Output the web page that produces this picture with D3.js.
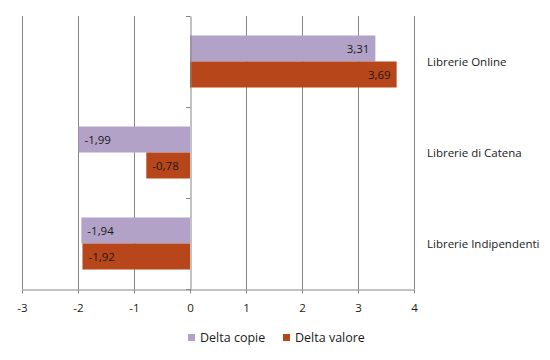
<!DOCTYPE html>
<html><head><meta charset="utf-8">
<script src="https://cdn.jsdelivr.net/npm/d3@7"></script>
<style>body{margin:0;background:#fff}text{font-family:"Open Sans","DejaVu Sans",sans-serif}</style>
</head><body><svg id="c" width="550" height="360"></svg>
<script>
const categories = ["Librerie Online","Librerie di Catena","Librerie Indipendenti"];
const seriesNames = ["Delta copie","Delta valore"];
const deltaCopie = [3.31,-1.99,-1.94];
const deltaValore = [3.69,-0.78,-1.92];
const xTicks = [-3,-2,-1,0,1,2,3,4];
const colors = ["#b3a2c7","#b8461b"];

const svg = d3.select("#c");
const x = d3.scaleLinear().domain([-3,4]).range([22,414]);
const y = d3.scaleBand().domain(categories).range([16,289]).paddingInner(0).paddingOuter(0);
const inner = d3.scaleBand().domain(seriesNames).range([0,y.bandwidth()]).paddingInner(0).paddingOuter(0.75);
const grid = "#868686";
const fmt = v => d3.format(".2f")(v).replace(".",",").replace("\u2212","-");

// gridlines
svg.append("g").selectAll("line").data(xTicks.filter(t=>t!==0)).join("line")
  .attr("x1",d=>x(d)+0.5).attr("x2",d=>x(d)+0.5).attr("y1",16).attr("y2",289)
  .attr("stroke",grid).attr("stroke-width",1);

// bars
const data = [];
categories.forEach((c,i)=>{
  data.push({c,s:seriesNames[0],v:deltaCopie[i],col:colors[0]});
  data.push({c,s:seriesNames[1],v:deltaValore[i],col:colors[1]});
});
svg.append("g").selectAll("rect").data(data).join("rect")
  .attr("x",d=>x(Math.min(0,d.v))).attr("width",d=>Math.abs(x(d.v)-x(0)))
  .attr("y",d=>y(d.c)+inner(d.s)).attr("height",inner.bandwidth())
  .attr("fill",d=>d.col);

svg.append("g").selectAll("text").data(data).join("text")
  .attr("x",d=>d.v>0? x(d.v)-6 : x(d.v)+6)
  .attr("y",d=>y(d.c)+inner(d.s)+inner.bandwidth()/2)
  .attr("dy","0.35em")
  .attr("text-anchor",d=>d.v>0?"end":"start")
  .attr("font-size",11.5).attr("fill","#1a1a1a")
  .text(d=>fmt(d.v));

// zero axis
const yAxis = svg.append("g").attr("transform",`translate(${x(0)+0.5},0)`)
  .call(d3.axisLeft(y).tickValues([]).tickSizeOuter(0));
yAxis.select(".domain").attr("stroke",grid);
svg.append("g").selectAll("line").data([16,107,198,289]).join("line")
  .attr("x1",x(0)-4).attr("x2",x(0)+0.5).attr("y1",d=>d+0.5).attr("y2",d=>d+0.5).attr("stroke",grid);

// bottom axis
const xAxis = svg.append("g").attr("transform","translate(0,289.5)")
  .call(d3.axisBottom(x).tickValues(xTicks).tickSize(4).tickSizeOuter(0).tickFormat(d=>String(d)));
xAxis.select(".domain").attr("stroke",grid);
xAxis.selectAll(".tick line").attr("stroke",grid);
xAxis.selectAll(".tick text").attr("font-size",11.5).attr("fill","#1a1a1a").attr("dy","0").attr("y",22)
  .style("font-family",'"Open Sans","DejaVu Sans",sans-serif');

// category labels on right
svg.append("g").selectAll("text").data(categories).join("text")
  .attr("x",427).attr("y",d=>y(d)+y.bandwidth()/2).attr("dy","0.35em")
  .attr("font-size",11.5).attr("fill","#1a1a1a").text(d=>d);

// legend
const leg = [{n:seriesNames[0],c:colors[0],x:188},{n:seriesNames[1],c:colors[1],x:283}];
const lg = svg.append("g");
lg.selectAll("rect").data(leg).join("rect").attr("x",d=>d.x).attr("y",334).attr("width",7).attr("height",7).attr("fill",d=>d.c);
lg.selectAll("text").data(leg).join("text").attr("x",d=>d.x+12).attr("y",338).attr("dy","0.35em")
  .attr("font-size",12.5).attr("fill","#1a1a1a").text(d=>d.n);
</script></body></html>
